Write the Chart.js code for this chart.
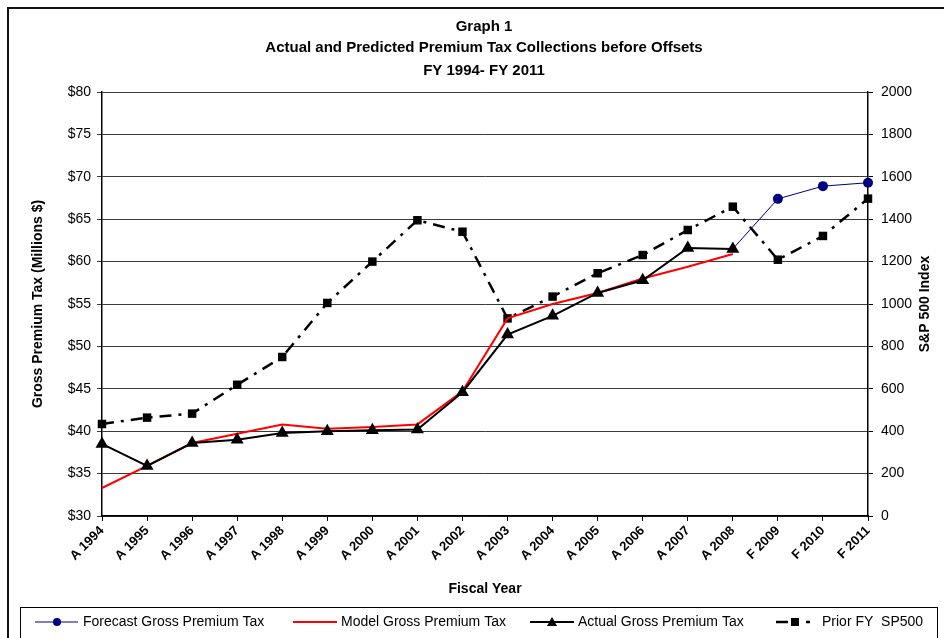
<!DOCTYPE html>
<html>
<head>
<meta charset="utf-8">
<title>Graph 1</title>
<script src="https://cdn.jsdelivr.net/npm/chart.js@4.4.1/dist/chart.umd.min.js"></script>
<style>
    html, body {
        margin: 0;
        padding: 0;
        background: #ffffff;
    }
    #chartWrap {
        width: 944px;
        height: 638px;
        position: relative;
    }
</style>
</head>
<body>
<div id="chartWrap">
    <canvas id="premiumTaxChart" width="944" height="638"></canvas>
</div>

<script>
/**
 * 보험료세 실적/예측 차트
 * - 왼쪽 축: 보험료세 (백만 $)
 * - 오른쪽 축: 전년도 S&P 500 지수
 */

const fiscalYears = [
    'A 1994', 'A 1995', 'A 1996', 'A 1997', 'A 1998', 'A 1999',
    'A 2000', 'A 2001', 'A 2002', 'A 2003', 'A 2004', 'A 2005',
    'A 2006', 'A 2007', 'A 2008', 'F 2009', 'F 2010', 'F 2011'
];

const forecastTax = [
    null, null, null, null, null, null,
    null, null, null, null, null, null,
    null, null, 61.5, 67.4, 68.9, 69.3
];

const modelTax = [
    33.3, 35.9, 38.6, 39.7, 40.8, 40.3,
    40.5, 40.8, 44.7, 53.3, 55.0, 56.3,
    58.0, 59.4, 60.9, null, null, null
];

const actualTax = [
    38.5, 35.9, 38.6, 39.0, 39.8, 40.0,
    40.1, 40.2, 44.6, 51.4, 53.6, 56.3,
    57.8, 61.6, 61.5, null, null, null
];

const priorSp500 = [
    434, 464, 483, 619, 750, 1005,
    1200, 1395, 1341, 932, 1035, 1145,
    1231, 1349, 1459, 1209, 1321, 1497
];

const titleLines = [
    'Graph 1',
    'Actual and Predicted Premium Tax Collections before Offsets',
    'FY 1994- FY 2011'
];

const FONT = '"Liberation Sans", Arial, Helvetica, sans-serif';


// 배경, 외곽선, 제목, 축 제목, 범례
const decorPlugin = {
    id: 'decor',

    beforeDraw: function(chart) {
        const ctx = chart.ctx;
        ctx.save();
        ctx.fillStyle = '#ffffff';
        ctx.fillRect(0, 0, chart.width, chart.height);

        ctx.strokeStyle = '#111111';
        ctx.lineWidth = 2;
        ctx.beginPath();
        ctx.moveTo(8, chart.height + 2);
        ctx.lineTo(8, 8);
        ctx.lineTo(chart.width + 2, 8);
        ctx.stroke();
        ctx.restore();
    },

    afterDraw: function(chart) {
        const ctx = chart.ctx;
        ctx.save();
        ctx.fillStyle = '#000000';
        ctx.textAlign = 'center';
        ctx.textBaseline = 'middle';

        // 제목
        ctx.font = 'bold 15px ' + FONT;
        ctx.fillText(titleLines[0], 484, 27);
        ctx.fillText(titleLines[1], 484, 48);
        ctx.fillText(titleLines[2], 484, 71);

        // 축 제목
        ctx.font = 'bold 14px ' + FONT;
        ctx.fillText('Fiscal Year', 485, 589);

        ctx.save();
        ctx.translate(38, 304);
        ctx.rotate(-Math.PI / 2);
        ctx.fillText('Gross Premium Tax (Millions $)', 0, 0);
        ctx.restore();

        ctx.save();
        ctx.translate(925, 304);
        ctx.rotate(-Math.PI / 2);
        ctx.fillText('S&P 500 Index', 0, 0);
        ctx.restore();

        drawLegend(ctx);
        ctx.restore();
    }
};


// 범례 상자
function drawLegend(ctx) {

    const y = 622;

    ctx.strokeStyle = '#000000';
    ctx.lineWidth = 1;
    ctx.strokeRect(20.5, 607.5, 917, 40);

    ctx.font = '14px ' + FONT;
    ctx.textAlign = 'left';
    ctx.textBaseline = 'middle';
    ctx.fillStyle = '#000000';

    // Forecast
    ctx.strokeStyle = '#000080';
    ctx.lineWidth = 1;
    ctx.beginPath();
    ctx.moveTo(35, y);
    ctx.lineTo(78, y);
    ctx.stroke();
    ctx.fillStyle = '#000080';
    ctx.beginPath();
    ctx.arc(57, y, 4, 0, Math.PI * 2);
    ctx.fill();
    ctx.fillStyle = '#000000';
    ctx.fillText('Forecast Gross Premium Tax', 83, y);

    // Model
    ctx.strokeStyle = '#ff0000';
    ctx.lineWidth = 2;
    ctx.beginPath();
    ctx.moveTo(293, y);
    ctx.lineTo(337, y);
    ctx.stroke();
    ctx.fillText('Model Gross Premium Tax', 341, y);

    // Actual
    ctx.strokeStyle = '#000000';
    ctx.beginPath();
    ctx.moveTo(530, y);
    ctx.lineTo(574, y);
    ctx.stroke();
    ctx.beginPath();
    ctx.moveTo(552, y - 5);
    ctx.lineTo(557, y + 4);
    ctx.lineTo(547, y + 4);
    ctx.closePath();
    ctx.fill();
    ctx.fillText('Actual Gross Premium Tax', 578, y);

    // Prior FY SP500
    ctx.lineWidth = 2.5;
    ctx.beginPath();
    ctx.moveTo(776, y);
    ctx.lineTo(788, y);
    ctx.moveTo(806, y);
    ctx.lineTo(810, y);
    ctx.stroke();
    ctx.fillRect(791, y - 4, 8, 8);
    ctx.fillText('Prior FY  SP500', 822, y);
}


// 차트 생성
function initPremiumTaxChart() {

    const ctx = document.getElementById('premiumTaxChart');

    if (!ctx) {
        return;
    }

    Chart.defaults.font.family = FONT;
    Chart.defaults.color = '#000000';

    new Chart(ctx.getContext('2d'), {
        type: 'line',
        data: {
            labels: fiscalYears,
            datasets: [
                {
                    label: 'Actual Gross Premium Tax',
                    data: actualTax,
                    yAxisID: 'y',
                    borderColor: '#000000',
                    backgroundColor: '#000000',
                    borderWidth: 2,
                    pointStyle: 'triangle',
                    pointRadius: 7.5,
                    pointBorderWidth: 0,
                    tension: 0
                },
                {
                    label: 'Model Gross Premium Tax',
                    data: modelTax,
                    yAxisID: 'y',
                    borderColor: '#ff0000',
                    backgroundColor: '#ff0000',
                    borderWidth: 2,
                    pointRadius: 0,
                    tension: 0
                },
                {
                    label: 'Forecast Gross Premium Tax',
                    data: forecastTax,
                    yAxisID: 'y',
                    borderColor: '#000080',
                    backgroundColor: '#000080',
                    borderWidth: 1,
                    pointStyle: 'circle',
                    pointRadius: forecastTax.map(function(v, i) {
                        return i < 15 ? 0 : 5;
                    }),
                    pointBorderWidth: 0,
                    tension: 0
                },
                {
                    label: 'Prior FY  SP500',
                    data: priorSp500,
                    yAxisID: 'y1',
                    borderColor: '#000000',
                    backgroundColor: '#000000',
                    borderWidth: 2.5,
                    borderDash: [12, 7, 3, 7],
                    pointStyle: 'rect',
                    pointRadius: 6,
                    pointBorderWidth: 0,
                    tension: 0
                }
            ]
        },
        options: {
            responsive: false,
            animation: false,
            layout: {
                padding: {
                    top: 92,
                    left: 0,
                    right: 0,
                    bottom: 0
                }
            },
            plugins: {
                legend: {
                    display: false
                },
                title: {
                    display: false
                },
                tooltip: {
                    enabled: false
                }
            },
            scales: {
                x: {
                    offset: false,
                    grid: {
                        drawOnChartArea: false,
                        color: '#000000',
                        tickLength: 5
                    },
                    border: {
                        color: '#000000',
                        width: 1.5
                    },
                    ticks: {
                        minRotation: 45,
                        maxRotation: 45,
                        autoSkip: false,
                        padding: 2,
                        font: {
                            size: 13,
                            weight: 'bold'
                        }
                    },
                    afterFit: function(scale) {
                        scale.height = 122;
                    }
                },
                y: {
                    position: 'left',
                    min: 30,
                    max: 80,
                    grid: {
                        color: '#3a3a3a',
                        lineWidth: 1,
                        tickLength: 5
                    },
                    border: {
                        color: '#000000',
                        width: 1.5
                    },
                    ticks: {
                        stepSize: 5,
                        padding: 6,
                        font: {
                            size: 14
                        },
                        callback: function(value) {
                            return '$' + value;
                        }
                    },
                    afterFit: function(scale) {
                        scale.width = 102;
                    }
                },
                y1: {
                    position: 'right',
                    min: 0,
                    max: 2000,
                    grid: {
                        drawOnChartArea: false,
                        color: '#000000',
                        tickLength: 5
                    },
                    border: {
                        color: '#000000',
                        width: 1.5
                    },
                    ticks: {
                        stepSize: 200,
                        padding: 8,
                        font: {
                            size: 14
                        },
                        callback: function(value) {
                            return String(value);
                        }
                    },
                    afterFit: function(scale) {
                        scale.width = 76;
                    }
                }
            }
        },
        plugins: [decorPlugin]
    });
}


initPremiumTaxChart();
</script>
</body>
</html>
